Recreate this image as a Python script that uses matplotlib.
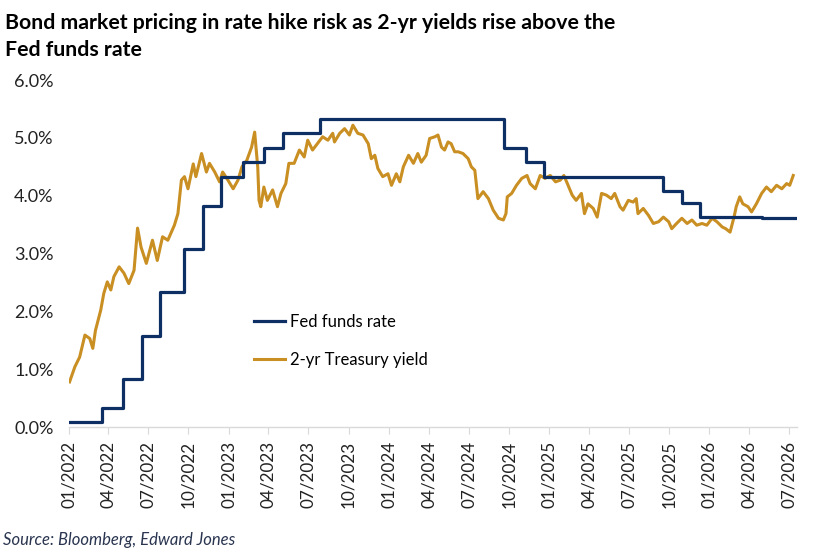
import matplotlib
matplotlib.use("Agg")
import matplotlib.pyplot as plt
import matplotlib.dates as mdates
import pandas as pd

plt.rcParams['font.family'] = ['Lato', 'DejaVu Sans']

# ---- Data ----
ff_dates = ["2022-01-01", "2022-03-17", "2022-05-05", "2022-06-16", "2022-07-28",
            "2022-09-22", "2022-11-03", "2022-12-15", "2023-02-02", "2023-03-23",
            "2023-05-04", "2023-07-27", "2024-09-19", "2024-11-08", "2024-12-19",
            "2025-09-18", "2025-10-30", "2025-12-11", "2026-05-01", "2026-07-15"]
ff_values = [0.08, 0.33, 0.83, 1.58, 2.33, 3.08, 3.83, 4.33, 4.58, 4.83,
             5.08, 5.33, 4.83, 4.58, 4.33, 4.08, 3.87, 3.64, 3.62, 3.62]

y2_dates = [
    "2022-01-03", "2022-01-15", "2022-01-26", "2022-02-07", "2022-02-18", "2022-02-25",
    "2022-03-03", "2022-03-15", "2022-03-22", "2022-03-30", "2022-04-07", "2022-04-14",
    "2022-04-26", "2022-05-07", "2022-05-18", "2022-05-30", "2022-06-07", "2022-06-15",
    "2022-06-27", "2022-07-11", "2022-07-22", "2022-08-03", "2022-08-15", "2022-08-30",
    "2022-09-07", "2022-09-15", "2022-09-22", "2022-09-30", "2022-10-12", "2022-10-18",
    "2022-10-31", "2022-11-11", "2022-11-18", "2022-11-30", "2022-12-11", "2022-12-18",
    "2022-12-30", "2023-01-11", "2023-01-22", "2023-01-31", "2023-02-11", "2023-02-22",
    "2023-03-01", "2023-03-08", "2023-03-11", "2023-03-15", "2023-03-22", "2023-03-30",
    "2023-04-11", "2023-04-22", "2023-04-30", "2023-05-11", "2023-05-18", "2023-05-30",
    "2023-06-11", "2023-06-22", "2023-06-30", "2023-07-11", "2023-07-22", "2023-08-03",
    "2023-08-15", "2023-08-26", "2023-08-30", "2023-09-11", "2023-09-22", "2023-10-03",
    "2023-10-11", "2023-10-22", "2023-11-03", "2023-11-15", "2023-11-22", "2023-11-30",
    "2023-12-07", "2023-12-18", "2023-12-30", "2024-01-07", "2024-01-18", "2024-01-26",
    "2024-02-03", "2024-02-15", "2024-02-26", "2024-03-07", "2024-03-15", "2024-03-26",
    "2024-04-03", "2024-04-15", "2024-04-22", "2024-04-30", "2024-05-07", "2024-05-15",
    "2024-05-22", "2024-05-30", "2024-06-07", "2024-06-18", "2024-06-30", "2024-07-07",
    "2024-07-15", "2024-07-22", "2024-08-03", "2024-08-15", "2024-08-26", "2024-09-07",
    "2024-09-18", "2024-09-24", "2024-09-27", "2024-10-07", "2024-10-18", "2024-10-30",
    "2024-11-11", "2024-11-18", "2024-11-30", "2024-12-11", "2024-12-22", "2025-01-03",
    "2025-01-15", "2025-01-26", "2025-02-03", "2025-02-11", "2025-02-22", "2025-03-03",
    "2025-03-15", "2025-03-22", "2025-03-30", "2025-04-11", "2025-04-20", "2025-04-30",
    "2025-05-11", "2025-05-22", "2025-05-30", "2025-06-11", "2025-06-18", "2025-06-30",
    "2025-07-11", "2025-07-18", "2025-07-22", "2025-08-03", "2025-08-15", "2025-08-26",
    "2025-09-07", "2025-09-18", "2025-09-30", "2025-10-07", "2025-10-18", "2025-10-30",
    "2025-11-11", "2025-11-22", "2025-12-03", "2025-12-15", "2025-12-26", "2026-01-07",
    "2026-01-18", "2026-01-30", "2026-02-07", "2026-02-17", "2026-02-26", "2026-03-03",
    "2026-03-11", "2026-03-18", "2026-03-30", "2026-04-07", "2026-04-18", "2026-04-30",
    "2026-05-11", "2026-05-22", "2026-06-03", "2026-06-15", "2026-06-26", "2026-07-03",
    "2026-07-11"]
y2_values = [
    0.78, 1.04, 1.21, 1.59, 1.53, 1.36,
    1.67, 2.02, 2.31, 2.51, 2.37, 2.60,
    2.77, 2.66, 2.48, 2.71, 3.44, 3.11,
    2.83, 3.23, 2.88, 3.29, 3.23, 3.49,
    3.69, 4.27, 4.33, 4.12, 4.55, 4.33,
    4.73, 4.41, 4.56, 4.41, 4.24, 4.41,
    4.27, 4.12, 4.27, 4.50, 4.61, 4.84,
    5.10, 4.50, 3.92, 3.81, 4.15, 3.92,
    4.10, 3.81, 4.04, 4.21, 4.56, 4.56,
    4.79, 4.67, 4.96, 4.79, 4.90, 5.02,
    4.96, 5.08, 4.93, 5.08, 5.16, 5.05,
    5.22, 5.08, 5.05, 4.90, 4.64, 4.70,
    4.47, 4.33, 4.38, 4.18, 4.38, 4.24,
    4.50, 4.70, 4.56, 4.73, 4.58, 4.70,
    4.99, 5.02, 5.05, 4.84, 4.79, 4.93,
    4.90, 4.76, 4.76, 4.73, 4.64, 4.50,
    4.44, 3.95, 4.07, 3.95, 3.75, 3.61,
    3.58, 3.69, 3.98, 4.04, 4.18, 4.30,
    4.35, 4.21, 4.12, 4.35, 4.30, 4.35,
    4.24, 4.27, 4.35, 4.21, 4.01, 3.92,
    4.04, 3.69, 3.86, 3.78, 3.63, 4.04,
    4.01, 3.95, 4.04, 3.81, 3.75, 3.92,
    3.89, 3.95, 3.69, 3.78, 3.66, 3.52,
    3.55, 3.63, 3.55, 3.43, 3.52, 3.61,
    3.52, 3.58, 3.49, 3.52, 3.49, 3.61,
    3.55, 3.46, 3.43, 3.37, 3.63, 3.81,
    3.98, 3.86, 3.81, 3.72, 3.86, 4.04,
    4.15, 4.07, 4.18, 4.12, 4.21, 4.18,
    4.35]

tick_dates = ["2022-01-01", "2022-04-01", "2022-07-01", "2022-10-01", "2023-01-01",
              "2023-04-01", "2023-07-01", "2023-10-01", "2024-01-01", "2024-04-01",
              "2024-07-01", "2024-10-01", "2025-01-01", "2025-04-01", "2025-07-01",
              "2025-10-01", "2026-01-01", "2026-04-01", "2026-07-01"]
y_ticks = [0, 1, 2, 3, 4, 5, 6]

title = "Bond market pricing in rate hike risk as 2-yr yields rise above the\nFed funds rate"
source = "Source: Bloomberg, Edward Jones"

navy = "#0E2F64"
gold = "#C98F22"

# ---- Figure ----
fig = plt.figure(figsize=(8.13, 5.6), dpi=100)
ax = fig.add_axes([0.0845, 0.2375, 0.8955, 0.6195])

ax.plot(pd.to_datetime(ff_dates), ff_values, drawstyle="steps-post", color=navy,
        lw=2.3, label="Fed funds rate", zorder=3)
ax.plot(pd.to_datetime(y2_dates), y2_values, color=gold, lw=2.2,
        label="2-yr Treasury yield", zorder=2)

ax.set_ylim(0, 6)
ax.set_yticks(y_ticks)
ax.set_yticklabels([f"{v:.1f}%" for v in y_ticks])
ax.set_xlim(pd.Timestamp("2022-01-01"), pd.Timestamp("2026-07-19"))
ax.set_xticks(pd.to_datetime(tick_dates))
ax.xaxis.set_major_formatter(mdates.DateFormatter("%m/%Y"))

for s in ["top", "right", "left"]:
    ax.spines[s].set_visible(False)
ax.spines["bottom"].set_color("#D9D9D9")
ax.spines["bottom"].set_linewidth(1.0)
ax.tick_params(axis="y", length=0, pad=11, labelsize=13, labelcolor="#222222")
ax.tick_params(axis="x", length=5, color="#D9D9D9", direction="out", pad=5,
               labelsize=12.3, labelcolor="#222222", labelrotation=90)

leg = ax.legend(loc="upper left", bbox_to_anchor=(0.245, 0.345), frameon=False,
                fontsize=12, handlelength=1.9, handletextpad=0.25, labelspacing=1.3,
                borderaxespad=0)

fig.text(0.006, 0.977, title, ha="left", va="top", fontsize=15.3, fontweight="bold",
         color="black", linespacing=1.42)
fig.text(0.004, 0.022, source, ha="left", va="bottom", fontsize=12, style="italic",
         color="#2A3550")

fig.savefig("out.png", dpi=100)
